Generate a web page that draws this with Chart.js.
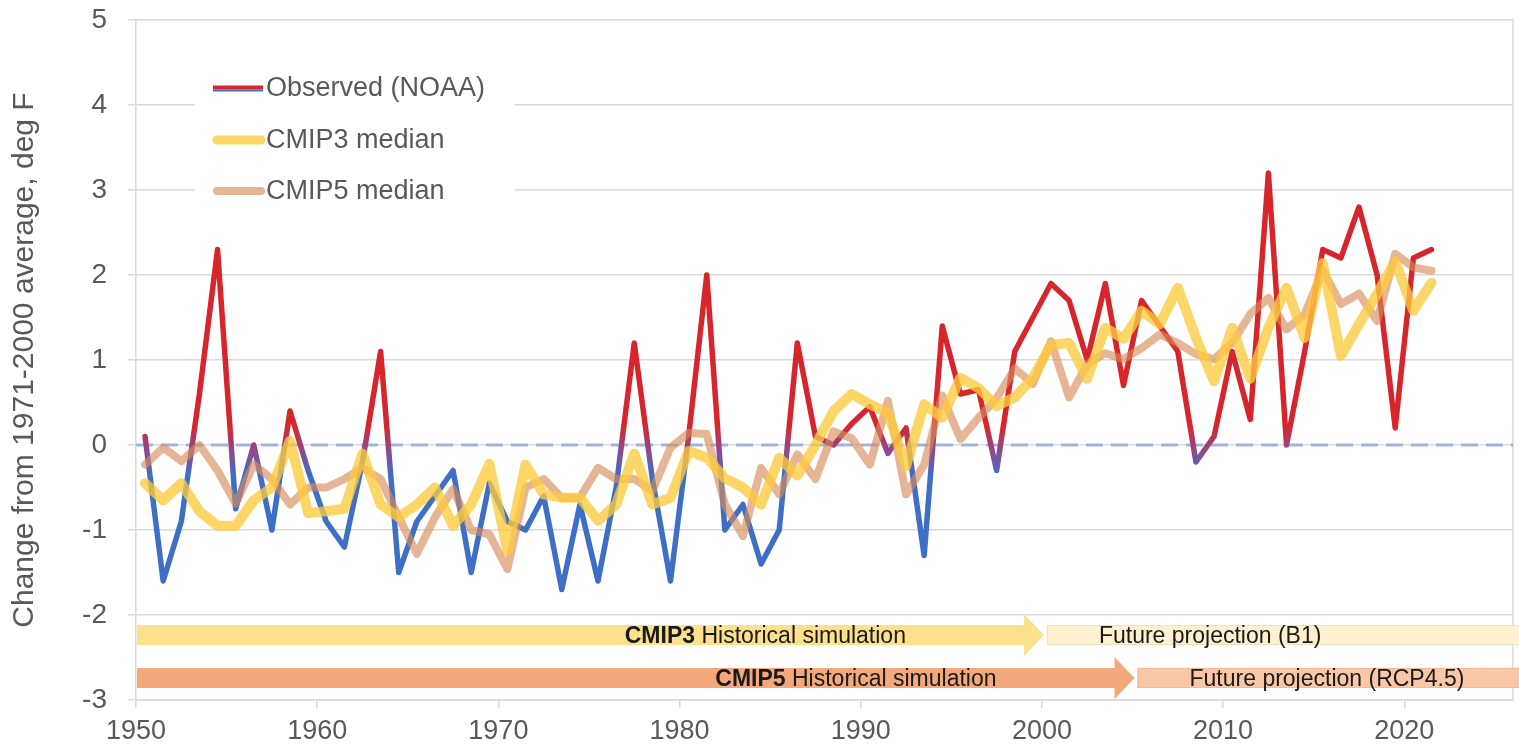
<!DOCTYPE html>
<html>
<head>
<meta charset="utf-8">
<script src="https://cdn.jsdelivr.net/npm/chart.js@4.4.0/dist/chart.umd.min.js"></script>
<style>
html,body{margin:0;padding:0;background:#ffffff;overflow:hidden}
canvas{display:block}
</style>
</head>
<body>
<canvas id="c" width="1519" height="752"></canvas>
<script>
// ---------------- data ----------------
const years = [1950,1951,1952,1953,1954,1955,1956,1957,1958,1959,
               1960,1961,1962,1963,1964,1965,1966,1967,1968,1969,
               1970,1971,1972,1973,1974,1975,1976,1977,1978,1979,
               1980,1981,1982,1983,1984,1985,1986,1987,1988,1989,
               1990,1991,1992,1993,1994,1995,1996,1997,1998,1999,
               2000,2001,2002,2003,2004,2005,2006,2007,2008,2009,
               2010,2011,2012,2013,2014,2015,2016,2017,2018,2019,
               2020,2021];

const observed = [0.1,-1.6,-0.9,0.6,2.3,-0.75,0.0,-1.0,0.4,-0.3,
                  -0.9,-1.2,-0.2,1.1,-1.5,-0.9,-0.6,-0.3,-1.5,-0.45,
                  -0.9,-1.0,-0.6,-1.7,-0.7,-1.6,-0.5,1.2,-0.4,-1.6,
                  0.1,2.0,-1.0,-0.7,-1.4,-1.0,1.2,0.1,0.0,0.25,
                  0.45,-0.1,0.2,-1.3,1.4,0.6,0.65,-0.3,1.1,1.5,
                  1.9,1.7,1.0,1.9,0.7,1.7,1.4,1.1,-0.2,0.1,
                  1.1,0.3,3.2,0.0,1.1,2.3,2.2,2.8,2.0,0.2,
                  2.2,2.3];

const cmip3Median = [-0.45,-0.65,-0.45,-0.78,-0.95,-0.95,-0.65,-0.5,0.05,-0.8,
                     -0.78,-0.75,-0.1,-0.7,-0.85,-0.7,-0.5,-0.95,-0.7,-0.22,
                     -1.25,-0.23,-0.58,-0.62,-0.62,-0.89,-0.7,-0.1,-0.7,-0.62,
                     -0.07,-0.15,-0.39,-0.5,-0.7,-0.15,-0.36,0.0,0.4,0.6,
                     0.48,0.38,-0.25,0.48,0.32,0.79,0.67,0.46,0.56,0.79,
                     1.18,1.2,0.78,1.38,1.25,1.58,1.42,1.85,1.26,0.75,
                     1.38,0.78,1.38,1.85,1.26,2.14,1.05,1.42,1.78,2.16,
                     1.58,1.91];

const cmip5Median = [-0.23,-0.03,-0.19,0.0,-0.3,-0.69,-0.23,-0.4,-0.7,-0.5,
                     -0.5,-0.4,-0.27,-0.4,-0.85,-1.28,-0.85,-0.52,-1.0,-1.05,
                     -1.46,-0.5,-0.4,-0.62,-0.62,-0.27,-0.4,-0.4,-0.54,-0.03,
                     0.14,0.13,-0.7,-1.07,-0.27,-0.58,-0.11,-0.4,0.16,0.08,
                     -0.23,0.52,-0.58,-0.23,0.58,0.07,0.32,0.55,0.9,0.72,
                     1.22,0.56,0.95,1.08,1.01,1.14,1.3,1.2,1.07,1.01,
                     1.2,1.54,1.73,1.36,1.54,2.05,1.66,1.78,1.46,2.25,
                     2.09,2.05];

const seriesLabels = ['Observed (NOAA)', 'CMIP3 median', 'CMIP5 median'];
const yTickValues = [-3,-2,-1,0,1,2,3,4,5];
const xTickYears = [1950,1960,1970,1980,1990,2000,2010,2020];
const xRange = [1950, 2026];
const yRange = [-3, 5];
const yAxisTitle = 'Change from 1971-2000 average, deg F';

// period bars
const periodModels = ['CMIP3', 'CMIP5'];
const historicalEnd = [2000, 2005];
const historicalText = ['Historical simulation', 'Historical simulation'];
const futureText = ['Future projection (B1)', 'Future projection (RCP4.5)'];

// ---------------- styling ----------------
const FONT = "'Liberation Sans', Arial, Helvetica, sans-serif";
const GREY_TXT = '#595959';
const GRID = '#d9d9d9';
const RED = '#d7262b';
const BLUE = '#3d6fc6';
const YELLOW = 'rgba(253,202,62,0.78)';
const TAN = 'rgba(214,140,90,0.64)';

Chart.defaults.font.family = FONT;
Chart.defaults.color = GREY_TXT;

const toPoints = arr => arr.map((v, i) => ({ x: years[i] + 0.5, y: v }));

function observedColor(context) {
  const chart = context.chart;
  const area = chart.chartArea;
  if (!area) return RED;
  const ys = chart.scales.y;
  const y1 = ys.getPixelForValue(0.22);
  const y2 = ys.getPixelForValue(-0.36);
  const g = chart.ctx.createLinearGradient(0, y1, 0, y2);
  g.addColorStop(0, RED);
  g.addColorStop(0.5, '#8c4a8e');
  g.addColorStop(1, BLUE);
  return g;
}

const decorPlugin = {
  id: 'decor',
  beforeDatasetsDraw(chart) {
    const { ctx, chartArea: a, scales } = chart;
    const y0 = scales.y.getPixelForValue(0);
    ctx.save();
    // right frame line
    ctx.strokeStyle = GRID;
    ctx.lineWidth = 1.5;
    ctx.beginPath();
    ctx.moveTo(a.right, a.top);
    ctx.lineTo(a.right, a.bottom);
    ctx.stroke();
    // zero dashed line
    ctx.strokeStyle = 'rgba(150,170,215,0.85)';
    ctx.lineWidth = 3;
    ctx.setLineDash([17, 8]);
    ctx.beginPath();
    ctx.moveTo(a.left, y0);
    ctx.lineTo(a.right, y0);
    ctx.stroke();
    ctx.restore();
  },
  afterDatasetsDraw(chart) {
    const { ctx, chartArea: a, scales } = chart;
    const xs = scales.x, ys = scales.y;
    ctx.save();

    // ---- period arrows ----
    const rowCenter = [ys.getPixelForValue(-2.235), ys.getPixelForValue(-2.74)];
    const histFill = ['#fde08c', '#f3a97c'];
    const futFill = ['#fff1cf', '#f9c7a5'];
    const futEdge = ['#f1e2b8', '#efbc9a'];
    const barH = 20, headH = 21, headL = 20;
    rowCenter.forEach((cy, i) => {
      const tip = xs.getPixelForValue(historicalEnd[i]) + 2;
      const base = tip - headL;
      // historical arrow
      ctx.fillStyle = histFill[i];
      ctx.beginPath();
      ctx.moveTo(a.left + 1, cy - barH / 2);
      ctx.lineTo(base, cy - barH / 2);
      ctx.lineTo(base, cy - headH);
      ctx.lineTo(tip, cy);
      ctx.lineTo(base, cy + headH);
      ctx.lineTo(base, cy + barH / 2);
      ctx.lineTo(a.left + 1, cy + barH / 2);
      ctx.closePath();
      ctx.fill();
      // future box
      const fx = tip + 3;
      ctx.fillStyle = futFill[i];
      ctx.fillRect(fx, cy - barH / 2, chart.width - fx, barH);
      ctx.strokeStyle = futEdge[i];
      ctx.lineWidth = 1;
      ctx.strokeRect(fx + 0.5, cy - barH / 2 + 0.5, chart.width - fx, barH - 1);

      // texts
      ctx.fillStyle = '#1a1a1a';
      ctx.textBaseline = 'middle';
      ctx.textAlign = 'left';
      const boldF = "bold 23px " + FONT, normF = "23px " + FONT;
      ctx.font = boldF;
      const wB = ctx.measureText(periodModels[i]).width;
      ctx.font = normF;
      const rest = ' ' + historicalText[i];
      const wN = ctx.measureText(rest).width;
      const right = tip - 138;
      const start = right - wB - wN;
      ctx.font = boldF;
      ctx.fillText(periodModels[i], start, cy + 2);
      ctx.font = normF;
      ctx.fillText(rest, start + wB, cy + 2);
      ctx.fillText(futureText[i], fx + 52, cy + 2);
    });

    // ---- legend ----
    const lx = a.left + 59, ly = a.top + 42;
    ctx.fillStyle = '#ffffff';
    ctx.fillRect(lx, ly, 320, 154);
    const rowsY = [a.top + 68, a.top + 120, a.top + 171];
    const sx1 = a.left + 77, sx2 = a.left + 127;
    const ds = chart.data.datasets;
    ctx.lineCap = 'butt';
    // observed sample: red with blue underline
    ctx.strokeStyle = BLUE; ctx.lineWidth = 2;
    ctx.beginPath(); ctx.moveTo(sx1, rowsY[0] + 2.5); ctx.lineTo(sx2, rowsY[0] + 2.5); ctx.stroke();
    ctx.strokeStyle = RED; ctx.lineWidth = 4;
    ctx.beginPath(); ctx.moveTo(sx1, rowsY[0] - 0.5); ctx.lineTo(sx2, rowsY[0] - 0.5); ctx.stroke();
    ctx.lineCap = 'round';
    ctx.strokeStyle = YELLOW; ctx.lineWidth = 9;
    ctx.beginPath(); ctx.moveTo(sx1 + 4, rowsY[1]); ctx.lineTo(sx2 - 2, rowsY[1]); ctx.stroke();
    ctx.strokeStyle = TAN; ctx.lineWidth = 8;
    ctx.beginPath(); ctx.moveTo(sx1 + 4, rowsY[2]); ctx.lineTo(sx2 - 2, rowsY[2]); ctx.stroke();
    ctx.fillStyle = GREY_TXT;
    ctx.font = "27px " + FONT;
    ctx.textAlign = 'left';
    ctx.textBaseline = 'middle';
    ds.forEach((d, i) => ctx.fillText(d.label, sx2 + 3, rowsY[i] + 1));
    ctx.restore();
  }
};

new Chart(document.getElementById('c'), {
  type: 'line',
  data: {
    datasets: [
      { label: seriesLabels[0], data: toPoints(observed), borderColor: observedColor, borderWidth: 5.5, order: 3 },
      { label: seriesLabels[1], data: toPoints(cmip3Median), borderColor: YELLOW, borderWidth: 10, order: 1 },
      { label: seriesLabels[2], data: toPoints(cmip5Median), borderColor: TAN, borderWidth: 8, order: 2 }
    ]
  },
  options: {
    responsive: false,
    animation: false,
    layout: { padding: { top: 20, right: 6, bottom: 0, left: 0 } },
    elements: {
      point: { radius: 0, hoverRadius: 0 },
      line: { tension: 0, borderJoinStyle: 'round', borderCapStyle: 'round', fill: false }
    },
    plugins: { legend: { display: false }, tooltip: { enabled: false } },
    scales: {
      x: {
        type: 'linear',
        min: xRange[0], max: xRange[1],
        afterBuildTicks: s => { s.ticks = xTickYears.map(v => ({ value: v })); },
        afterFit: s => { s.height = 52; s.paddingLeft = 0; s.paddingRight = 0; },
        ticks: { font: { size: 27 }, color: GREY_TXT, padding: 7, maxRotation: 0, autoSkip: false,
                 callback: v => String(v) },
        grid: { drawOnChartArea: false, drawTicks: true, tickLength: 8, color: GRID, lineWidth: 1.5 },
        border: { display: true, color: GRID, width: 1.5 }
      },
      y: {
        min: yRange[0], max: yRange[1],
        afterBuildTicks: s => { s.ticks = yTickValues.map(v => ({ value: v })); },
        afterFit: s => { s.width = 136; s.paddingTop = 0; s.paddingBottom = 0; },
        ticks: { font: { size: 28 }, color: GREY_TXT, padding: 21, callback: v => String(v) },
        grid: { color: GRID, lineWidth: 1.5, tickLength: 8 },
        border: { display: true, color: GRID, width: 1.5 },
        title: { display: true, text: yAxisTitle, font: { size: 30 }, color: GREY_TXT, padding: { top: 7, bottom: 0 } }
      }
    }
  },
  plugins: [decorPlugin]
});
</script>
</body>
</html>
